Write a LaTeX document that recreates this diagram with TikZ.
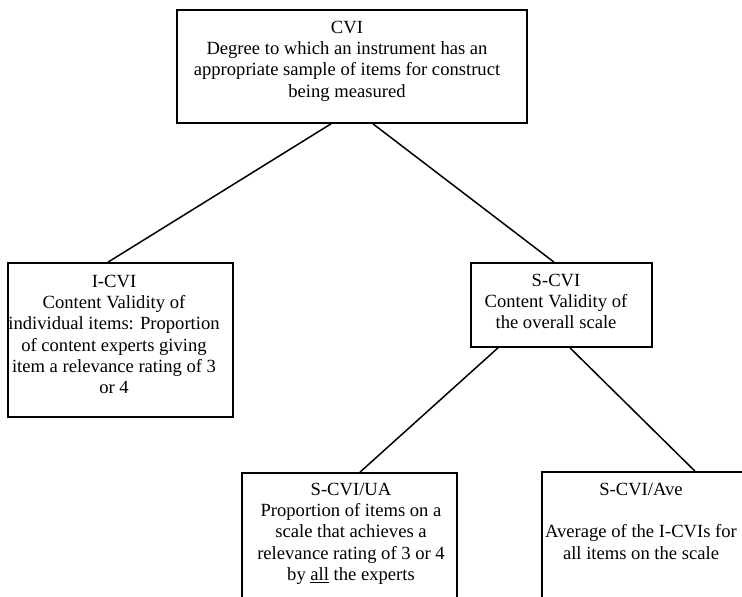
\documentclass[tikz,border=0pt]{standalone}
\usepackage{fontspec}
\setmainfont{Liberation Serif}
\begin{document}
\begin{tikzpicture}[x=1pt,y=-1pt,
  box/.style={draw=black,line width=1.7pt,inner sep=0pt,fill=none},
  txt/.style={inner sep=0pt,align=center,anchor=north,font=\fontsize{18.6}{21.3}\selectfont},
  link/.style={draw=black,line width=1.5pt}]
\useasboundingbox (0,0) rectangle (742,597);
% boxes
\node[box,minimum width=350pt,minimum height=113pt] (cvi) at (352,66.5) {};
\node[box,minimum width=225pt,minimum height=154pt] (icvi) at (120.5,340) {};
\node[box,minimum width=181pt,minimum height=84pt] (scvi) at (561.5,305) {};
\node[box,minimum width=215pt,minimum height=177pt] (ua) at (349.5,561.5) {};
\node[box,minimum width=260pt,minimum height=178pt] (ave) at (672,561) {};
% texts
\node[txt] (cvitxt) at (347,18.1) {\strut CVI\\Degree to which an instrument has an\\appropriate sample of items for construct\\being measured};
\node[txt] (icvitxt) at (114,272.1) {\strut I-CVI\\Content Validity of\\individual items: Proportion\\of content experts giving\\item a relevance rating of 3\\or 4};
\node[txt] (scvitxt) at (556,271.1) {\strut S-CVI\\Content Validity of\\the overall scale};
\node[txt] (uatxt) at (351,480.1) {\strut S-CVI/UA\\Proportion of items on a\\scale that achieves a\\relevance rating of 3 or 4\\by \underline{all} the experts};
\node[txt] (avetxt) at (641,480.1) {\strut S-CVI/Ave\\\strut\\Average of the I-CVIs for\\all items on the scale};
% connectors
\draw[link] ([xshift=-21pt]cvi.south) -- ([xshift=-12.5pt]icvi.north);
\draw[link] ([xshift=21pt]cvi.south) -- ([xshift=-7.5pt]scvi.north);
\draw[link] ([xshift=-63.5pt]scvi.south) -- ([xshift=10.5pt]ua.north);
\draw[link] ([xshift=8.5pt]scvi.south) -- ([xshift=23pt]ave.north);
\end{tikzpicture}
\end{document}
